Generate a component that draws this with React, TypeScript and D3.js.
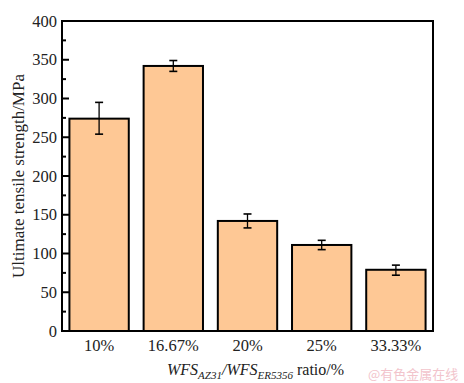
import React from "react";
import * as d3 from "d3";

const categories = ["10%", "16.67%", "20%", "25%", "33.33%"];
const values = [274, 342, 142, 111, 79];
const errLow = [254, 335, 133, 105, 72];
const errHigh = [295, 349, 151, 117, 85];
const majorTicks = [0, 50, 100, 150, 200, 250, 300, 350, 400];
const minorTicks = [25, 75, 125, 175, 225, 275, 325, 375];

const W = 464, H = 383;
const left = 62, right = 433, top = 21, bottom = 331;

export default function App() {
  const x = d3.scaleBand<string>().domain(categories).range([left, right]).paddingInner(0.2).paddingOuter(0.1);
  const y = d3.scaleLinear().domain([0, 400]).range([bottom, top]);
  const bw = x.bandwidth();
  return (
    <svg width={W} height={H} style={{ position: "absolute", left: 0, top: 0, background: "#fff", fontFamily: "Liberation Serif, serif" }}>
      {categories.map((c, i) => (
        <g key={c}>
          <rect x={x(c)!} y={y(values[i])} width={bw} height={y(0) - y(values[i])}
            fill="#FEC895" stroke="#000" strokeWidth={2} />
          <line x1={x(c)! + bw / 2} x2={x(c)! + bw / 2} y1={y(errLow[i])} y2={y(errHigh[i])} stroke="#000" strokeWidth={1.3} />
          <line x1={x(c)! + bw / 2 - 4} x2={x(c)! + bw / 2 + 4} y1={y(errLow[i])} y2={y(errLow[i])} stroke="#000" strokeWidth={1.6} />
          <line x1={x(c)! + bw / 2 - 4} x2={x(c)! + bw / 2 + 4} y1={y(errHigh[i])} y2={y(errHigh[i])} stroke="#000" strokeWidth={1.6} />
          <text x={x(c)! + bw / 2} y={351} textAnchor="middle" fontSize={16.5} fill="#222">{c}</text>
        </g>
      ))}
      {majorTicks.map((t) => (
        <g key={t}>
          <line x1={left} x2={left + 7} y1={y(t)} y2={y(t)} stroke="#000" strokeWidth={2} />
          <text x={57} y={y(t)} dy="0.34em" textAnchor="end" fontSize={16.5} fill="#222">{t}</text>
        </g>
      ))}
      {minorTicks.map((t) => (
        <line key={t} x1={left} x2={left + 4} y1={y(t)} y2={y(t)} stroke="#000" strokeWidth={2} />
      ))}
      <rect x={left} y={top} width={right - left} height={bottom - top} fill="none" stroke="#000" strokeWidth={2} />
      <text transform={`translate(24,${(top + bottom) / 2}) rotate(-90)`} textAnchor="middle" fontSize={17} fill="#222">
        Ultimate tensile strength/MPa
      </text>
      <text x={167} y={375} fontSize={16} fill="#222">
        <tspan fontStyle="italic">WFS</tspan>
        <tspan fontStyle="italic" fontSize={11} dy={4}>AZ31</tspan>
        <tspan fontStyle="italic" dy={-4}>/WFS</tspan>
        <tspan fontStyle="italic" fontSize={11} dy={4}>ER5356</tspan>
        <tspan dy={-4}> ratio/%</tspan>
      </text>
      <text x={368} y={379} fontFamily="Noto Sans CJK SC, sans-serif" fontSize={13} fill="#F2C4CC">@有色金属在线</text>
    </svg>
  );
}
